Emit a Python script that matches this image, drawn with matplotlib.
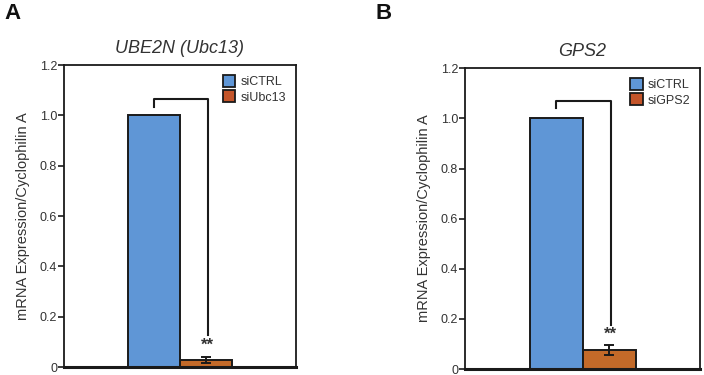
import numpy as np
import matplotlib.pyplot as plt
from matplotlib.patches import Patch

plt.rcParams["font.family"] = ["Liberation Sans", "DejaVu Sans"]

# ── Gögn ────────────────────────────────────────────────────────────────────
labels_a = ["siCTRL", "siUbc13"]
means_a = [1.0, 0.028]
err_a = [0.0, 0.013]
bracket_a = {"top": 1.064, "left_end": 1.034, "right_end": 0.127, "star": 0.088}

labels_b = ["siCTRL", "siGPS2"]
means_b = [1.0, 0.075]
err_b = [0.0, 0.020]
bracket_b = {"top": 1.068, "left_end": 1.042, "right_end": 0.175, "star": 0.140}

titles = ["UBE2N (Ubc13)", "GPS2"]
yticks = [0, 0.2, 0.4, 0.6, 0.8, 1.0, 1.2]
ytick_labels = ["0", "0.2", "0.4", "0.6", "0.8", "1.0", "1.2"]

BLUE = "#5f96d6"
ORANGE = "#c36a29"
LEG_ORANGE = "#c4552a"
EDGE = "#1a1a1a"
TXT = "#333333"

fig = plt.figure(figsize=(7.04, 3.75), dpi=100)
ax_a = fig.add_axes([0.0909, 0.0213, 0.3295, 0.805])
ax_b = fig.add_axes([0.6605, 0.0160, 0.334, 0.8020])


def draw_panel(ax, labels, means, errs, br, title):
    x = np.arange(len(means))
    ax.bar(x, means, width=1.0, color=[BLUE, ORANGE], edgecolor=EDGE,
           linewidth=1.4, zorder=2)
    ax.errorbar(x[1], means[1], yerr=errs[1], fmt="none", ecolor=EDGE,
                elinewidth=1.4, capsize=3.5, capthick=1.4, zorder=3)
    # signifikans-klofi
    ax.plot([x[0], x[0], x[1] + 0.03, x[1] + 0.03],
            [br["left_end"], br["top"], br["top"], br["right_end"]],
            color=EDGE, lw=1.5, zorder=3)
    ax.text(x[1] + 0.03, br["star"], "**", ha="center", va="center",
            fontsize=12, fontweight="bold", color=TXT)

    ax.set_xlim(-1.72, 2.72)
    ax.set_ylim(0, 1.2)
    ax.set_xticks([])
    ax.set_yticks(yticks)
    ax.set_yticklabels(ytick_labels, fontsize=9, color=TXT)
    ax.tick_params(axis="y", direction="out", length=4, width=1.2,
                   color=EDGE, pad=1)
    for s in ["left", "top", "right"]:
        ax.spines[s].set_linewidth(1.3)
        ax.spines[s].set_color(EDGE)
    ax.spines["bottom"].set_linewidth(2.2)
    ax.spines["bottom"].set_color(EDGE)
    ax.set_ylabel("mRNA Expression/Cyclophilin A", fontsize=10.5, color=TXT,
                  labelpad=7)
    ax.set_title(title, fontsize=13, style="italic", color=TXT, pad=9)

    handles = [Patch(facecolor=BLUE, edgecolor=EDGE, linewidth=1.3),
               Patch(facecolor=LEG_ORANGE, edgecolor=EDGE, linewidth=1.3)]
    leg = ax.legend(handles, labels, loc="upper right", frameon=False,
                    fontsize=9, handlelength=1.0, handleheight=1.1,
                    handletextpad=0.4, borderaxespad=0.4, labelspacing=0.15,
                    bbox_to_anchor=(1.0, 1.0))
    for t in leg.get_texts():
        t.set_color(TXT)


draw_panel(ax_a, labels_a, means_a, err_a, bracket_a, titles[0])
draw_panel(ax_b, labels_b, means_b, err_b, bracket_b, titles[1])

fig.text(0.007, 0.965, "A", fontsize=16, fontweight="bold", ha="left",
         va="center", color="#111111")
fig.text(0.533, 0.965, "B", fontsize=16, fontweight="bold", ha="left",
         va="center", color="#111111")

fig.savefig("out.png", dpi=100)
